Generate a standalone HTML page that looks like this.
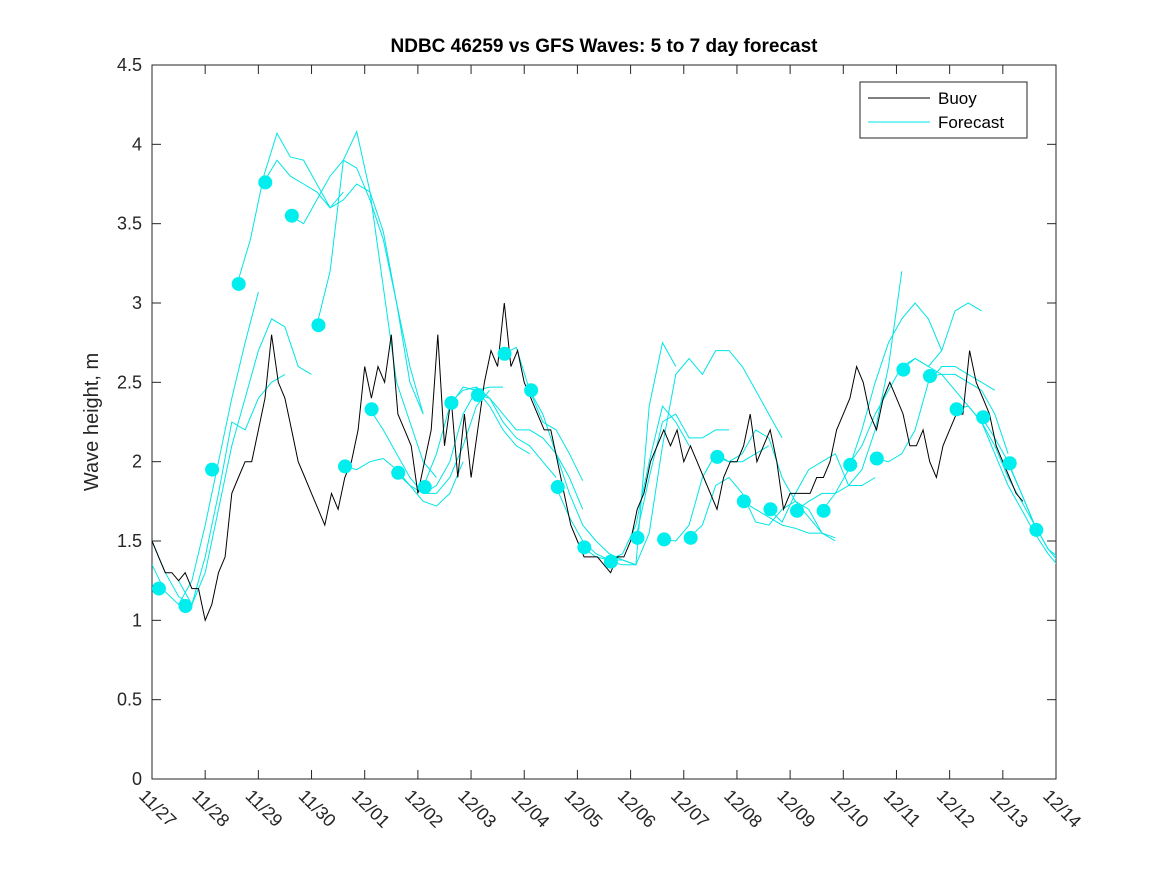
<!DOCTYPE html>
<html><head><meta charset="utf-8"><style>
html,body{margin:0;padding:0;background:#fff;}
svg{display:block;font-family:"Liberation Sans",sans-serif;}
</style></head><body>
<svg id="chart" width="1167" height="875" xmlns="http://www.w3.org/2000/svg">
<rect x="0" y="0" width="1167" height="875" fill="#fff"/>
<defs><clipPath id="clip"><rect x="152" y="65" width="904" height="714"/></clipPath></defs>
<text x="604" y="52" text-anchor="middle" font-size="19" font-weight="bold" fill="#000">NDBC 46259 vs GFS Waves: 5 to 7 day forecast</text>
<text transform="translate(98,422) rotate(-90)" text-anchor="middle" font-size="20" fill="#262626">Wave height, m</text>
<g id="axes"></g>
<g id="series" clip-path="url(#clip)"></g>
<g id="legend">
<rect x="860" y="82" width="167" height="56" fill="#fff" stroke="#262626" stroke-width="1"/>
<line x1="868" y1="98" x2="930" y2="98" stroke="#000" stroke-width="1"/>
<text x="938" y="104" font-size="17" fill="#000">Buoy</text>
<line x1="868" y1="122" x2="930" y2="122" stroke="#00e5e5" stroke-width="1"/>
<text x="938" y="128" font-size="17" fill="#000">Forecast</text>
</g>
</svg>
<script>
const xTickLabels = ["11/27","11/28","11/29","11/30","12/01","12/02","12/03","12/04","12/05","12/06","12/07","12/08","12/09","12/10","12/11","12/12","12/13","12/14"];
const yTicks = [0,0.5,1,1.5,2,2.5,3,3.5,4,4.5];
const yTickLabels = ["0","0.5","1","1.5","2","2.5","3","3.5","4","4.5"];
const buoyStep = 0.125;
const buoyValues = [1.5,1.4,1.3,1.3,1.25,1.3,1.2,1.2,1.0,1.1,1.3,1.4,1.8,1.9,2.0,2.0,2.2,2.4,2.8,2.5,2.4,2.2,2.0,1.9,1.8,1.7,1.6,1.8,1.7,1.9,2.0,2.2,2.6,2.4,2.6,2.5,2.8,2.3,2.2,2.1,1.8,2.0,2.2,2.8,2.1,2.4,1.9,2.3,1.9,2.2,2.5,2.7,2.6,3.0,2.6,2.7,2.5,2.4,2.3,2.2,2.2,2.0,1.8,1.6,1.5,1.4,1.4,1.4,1.35,1.3,1.4,1.4,1.5,1.7,1.8,2.0,2.1,2.2,2.1,2.2,2.0,2.1,2.0,1.9,1.8,1.7,1.9,2.0,2.0,2.1,2.3,2.0,2.1,2.2,2.0,1.7,1.8,1.8,1.8,1.8,1.9,1.9,2.0,2.2,2.3,2.4,2.6,2.5,2.3,2.2,2.4,2.5,2.4,2.3,2.1,2.1,2.2,2.0,1.9,2.1,2.2,2.3,2.3,2.7,2.5,2.4,2.3,2.1,2.0,1.9,1.8,1.75];
const dotTimes = [0.13,0.63,1.13,1.63,2.13,2.63,3.13,3.63,4.13,4.63,5.13,5.63,6.13,6.63,7.13,7.63,8.13,8.63,9.13,9.63,10.13,10.63,11.13,11.63,12.13,12.63,13.13,13.63,14.13,14.63,15.13,15.63,16.13,16.63];
const dotValues = [1.2,1.09,1.95,3.12,3.76,3.55,2.86,1.97,2.33,1.93,1.84,2.37,2.42,2.68,2.45,1.84,1.46,1.37,1.52,1.51,1.52,2.03,1.75,1.70,1.69,1.69,1.98,2.02,2.58,2.54,2.33,2.28,1.99,1.57];
const fcStep = 0.25;
const fcStarts = [0,0,0.5,1.6,2.1,2.6,3.1,3.6,4.1,4.6,5.1,5.6,6.1,6.6,7.1,7.6,8.1,8.6,9.1,9.6,10.1,10.6,11.1,11.6,12.1,12.6,13.1,13.6,14.1,14.6,15.1,15.6,16.1];
const fcValues = [
[1.35,1.18,1.1,1.25,1.6,2.0,2.4,2.75,3.07],
[1.5,1.3,1.15,1.1,1.4,1.8,2.25,2.2,2.4,2.5,2.55],
[1.25,1.1,1.3,1.7,2.1,2.4,2.7,2.9,2.85,2.6,2.55],
[3.12,3.4,3.8,4.07,3.92,3.9,3.75,3.6,3.7],
[3.76,3.9,3.8,3.75,3.7,3.6,3.65,3.75,3.7,3.45,3.0,2.5,2.3],
[3.55,3.5,3.65,3.8,3.9,3.85,3.65,3.4,3.0,2.6,2.3],
[2.86,3.2,3.9,4.08,3.7,3.1,2.5,2.25,2.0,1.9],
[1.97,1.95,2.0,2.02,1.95,1.85,1.75,1.72,1.8,2.0],
[2.33,2.2,2.05,1.9,1.8,1.8,1.9,2.1,2.35,2.45],
[1.93,1.85,1.8,1.85,2.0,2.3,2.45,2.47,2.47],
[1.84,2.05,2.35,2.47,2.45,2.35,2.2,2.1,2.05],
[2.37,2.45,2.47,2.4,2.25,2.15,2.1,2.0,1.9],
[2.42,2.4,2.3,2.2,2.2,2.15,2.05,1.9,1.7],
[2.68,2.72,2.45,2.25,2.2,2.05,1.88],
[2.45,2.3,2.05,1.8,1.6,1.5,1.42,1.38,1.35],
[1.84,1.65,1.5,1.42,1.38,1.38,1.35,2.35,2.75,2.6],
[1.46,1.4,1.38,1.42,1.6,2.0,2.35,2.25,2.1],
[1.37,1.35,1.35,1.55,2.1,2.55,2.65,2.55,2.7,2.7,2.6,2.45,2.3,2.15],
[1.52,1.9,2.25,2.3,2.15,2.15,2.2,2.2],
[1.51,1.5,1.6,1.9,2.05,2.0,2.0,2.05,2.1],
[1.52,1.6,1.85,1.9,1.8,1.62,1.6,1.7,1.75,1.7,1.55,1.5],
[2.03,2.0,2.05,2.2,2.15,1.9,1.75,1.65,1.55,1.52],
[1.75,1.7,1.65,1.6,1.58,1.55,1.55],
[1.70,1.62,1.8,1.95,2.0,2.05,1.85,1.85,1.9],
[1.69,1.75,1.8,1.8,1.85,1.95,2.2,2.6,3.2],
[1.69,1.8,1.95,2.2,2.5,2.75,2.9,3.0,2.9,2.7],
[1.98,2.1,2.3,2.45,2.6,2.65,2.6,2.7,2.95,3.0,2.95],
[2.02,2.0,2.05,2.2,2.5,2.6,2.6,2.55,2.5,2.45],
[2.58,2.65,2.6,2.55,2.55,2.5,2.45,2.3,2.05],
[2.54,2.55,2.45,2.35,2.25,2.1,1.9,1.75,1.6],
[2.33,2.35,2.25,2.05,1.85,1.7,1.55,1.42,1.32],
[2.28,2.15,2.0,1.8,1.6,1.45,1.35],
[1.99,1.8,1.6,1.45,1.38]
];
const X0=152,X1=1056,Y0=779,Y1=65,DAYS=17,YMAX=4.5;
const xs=t=>X0+(X1-X0)*t/DAYS;
const ys=v=>Y0-(Y0-Y1)*v/YMAX;
const NS="http://www.w3.org/2000/svg";
function mk(tag,attrs,parent){const e=document.createElementNS(NS,tag);for(const k in attrs)e.setAttribute(k,attrs[k]);parent.appendChild(e);return e;}
const axes=document.getElementById('axes');
const ser=document.getElementById('series');
const frame=mk('rect',{x:X0,y:Y1,width:X1-X0,height:Y0-Y1,fill:'none',stroke:'#262626','stroke-width':1},axes);


yTicks.forEach((v,i)=>{
  const y=ys(v);
  mk('line',{x1:X0,y1:y,x2:X0+9,y2:y,stroke:'#262626'},axes);
  mk('line',{x1:X1,y1:y,x2:X1-9,y2:y,stroke:'#262626'},axes);
  const t=mk('text',{x:X0-10,y:y+6,'text-anchor':'end','font-size':18,fill:'#262626'},axes);
  t.textContent=yTickLabels[i];
  
  
});
xTickLabels.forEach((lab,i)=>{
  const x=xs(i);
  mk('line',{x1:x,y1:Y0,x2:x,y2:Y0-9,stroke:'#262626'},axes);
  mk('line',{x1:x,y1:Y1,x2:x,y2:Y1+9,stroke:'#262626'},axes);
  const t=mk('text',{transform:`translate(${x-14},${Y0+18}) rotate(45)`,'font-size':18,fill:'#262626'},axes);
  t.textContent=lab;
  
  
});
fcValues.forEach((vals,k)=>{
  const pts=vals.map((v,j)=>xs(fcStarts[k]+j*fcStep).toFixed(1)+','+ys(v).toFixed(1)).join(' ');
  const p=mk('polyline',{points:pts,fill:'none',stroke:'#00e5e5','stroke-width':1},ser);
  
  
});
const bp=buoyValues.map((v,j)=>xs(j*buoyStep).toFixed(1)+','+ys(v).toFixed(1)).join(' ');
const buoy=mk('polyline',{points:bp,fill:'none',stroke:'#000','stroke-width':1},ser);


dotValues.forEach((v,i)=>{
  const c=mk('circle',{cx:xs(dotTimes[i]),cy:ys(v),r:7,fill:'#00eeee'},ser);
  
  
});
</script>
</body></html>
